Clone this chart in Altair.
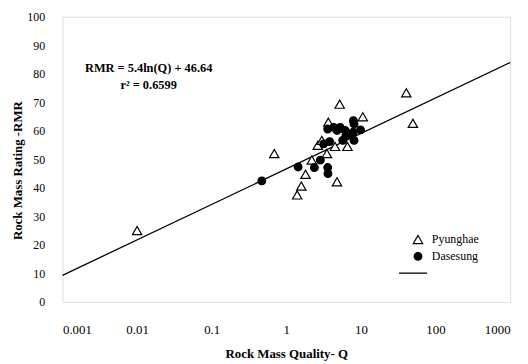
import altair as alt
import pandas as pd

# Pyunghae (triangles)
py_q = [0.01, 0.69, 1.40, 1.59, 1.81, 2.2, 2.64, 3.0, 3.5, 3.66, 4.5, 4.78, 5.2, 6.6, 10.6, 40.6, 49.8]
py_rmr = [25.0, 52.0, 37.5, 40.6, 44.7, 49.7, 54.9, 56.6, 52.0, 63.0, 54.5, 42.1, 69.3, 54.5, 64.9, 73.3, 62.6]

# Dasesung (filled circles)
da_q = [0.47, 1.44, 2.38, 2.86, 3.59, 3.62, 3.18, 3.81, 3.59, 4.32, 5.27, 6.15, 7.94, 8.1, 7.9, 9.9, 7.2, 5.7, 8.1, 6.3, 4.8]
da_rmr = [42.4, 47.3, 47.1, 49.7, 47.1, 45.0, 55.4, 56.2, 60.6, 61.2, 61.2, 60.1, 63.5, 62.4, 59.5, 60.3, 58.9, 56.6, 56.6, 58.3, 60.1]

# regression line end points
line_q = [0.001, 1000]
line_rmr = [9.3, 83.9]

x_ticks = [0.001, 0.01, 0.1, 1, 10, 100, 1000]
y_ticks = [0, 10, 20, 30, 40, 50, 60, 70, 80, 90, 100]

ann_q = [0.0143, 0.0143]
ann_rmr = [81.9, 76.0]
ann_text = ["RMR = 5.4ln(Q) + 46.64", "r² = 0.6599"]

FONT = "Liberation Serif"

pts = pd.DataFrame({
    "Q": py_q + da_q,
    "RMR": py_rmr + da_rmr,
    "site": ["Pyunghae"] * len(py_q) + ["Dasesung"] * len(da_q),
})
line_df = pd.DataFrame({"Q": line_q, "RMR": line_rmr, "fit": ["fit", "fit"]})
ann_df = pd.DataFrame({"Q": ann_q, "RMR": ann_rmr, "t": ann_text})

xs = alt.Scale(type="log", domain=[0.001, 1000], nice=False)
ys = alt.Scale(domain=[0, 100], nice=False)

xax = alt.Axis(values=x_ticks, format="~g", title="Rock Mass Quality- Q", domain=False, ticks=False,
               grid=False, labelPadding=22, labelFont=FONT, labelFontSize=13, labelColor="black",
               labelOverlap=False,
               titleFont=FONT, titleFontSize=13, titleFontWeight="bold", titleColor="black", titlePadding=11)
yax = alt.Axis(values=y_ticks, tickCount=11, title="Rock Mass Rating -RMR", domain=False, ticks=False, grid=False,
               labelPadding=18, labelFont=FONT, labelFontSize=12, labelColor="black",
               labelOverlap=False,
               titleFont=FONT, titleFontSize=13, titleFontWeight="bold", titleColor="black",
               titleX=-45, titleY=155, titleAngle=-90, titleBaseline="middle", titleAlign="center")

dom = ["Pyunghae", "Dasesung"]

leg = dict(title=None, orient="none", legendX=353, legendY=219,
           labelFont=FONT, labelFontSize=12, labelColor="black",
           rowPadding=3, symbolStrokeColor="black", symbolStrokeWidth=1.2, labelOffset=8)

points = alt.Chart(pts).mark_point(strokeWidth=1.2, opacity=1, filled=False).encode(
    x=alt.X("Q:Q", scale=xs, axis=xax),
    y=alt.Y("RMR:Q", scale=ys, axis=yax),
    shape=alt.Shape("site:N", scale=alt.Scale(domain=dom, range=["triangle-up", "circle"]),
                    legend=alt.Legend(**leg)),
    fill=alt.Fill("site:N", scale=alt.Scale(domain=dom, range=["white", "black"]),
                  legend=alt.Legend(**leg)),
    size=alt.Size("site:N", scale=alt.Scale(domain=dom, range=[90, 60]),
                  legend=alt.Legend(**leg)),
    stroke=alt.Stroke("site:N", scale=alt.Scale(domain=dom, range=["black", "black"]),
                      legend=alt.Legend(**leg)),
    order=alt.Order("site:N", sort="descending"),
)

line = alt.Chart(line_df).mark_line(strokeWidth=1.3).encode(
    x=alt.X("Q:Q", scale=xs, axis=xax),
    y=alt.Y("RMR:Q", scale=ys, axis=yax),
    color=alt.Color("fit:N", scale=alt.Scale(domain=["fit"], range=["black"]),
                    legend=alt.Legend(title=None, orient="none", legendX=339, legendY=244,
                                      symbolType="stroke", symbolSize=800, symbolStrokeWidth=1.3,
                                      labelExpr="''", labelFontSize=12)),
)

ann = alt.Chart(ann_df).mark_text(font=FONT, fontSize=12.5, fontWeight="bold", color="black").encode(
    x=alt.X("Q:Q", scale=xs, axis=xax),
    y=alt.Y("RMR:Q", scale=ys, axis=yax),
    text="t:N",
)

chart = alt.layer(line, points, ann).properties(
    width=452, height=288,
    autosize=alt.AutoSizeParams(type="none"),
    padding={"left": 55, "top": 7, "right": 10, "bottom": 60},
).configure_view(stroke=None).configure(background="white")

chart.save("out.html", embed_options={"renderer": "svg", "actions": False})
